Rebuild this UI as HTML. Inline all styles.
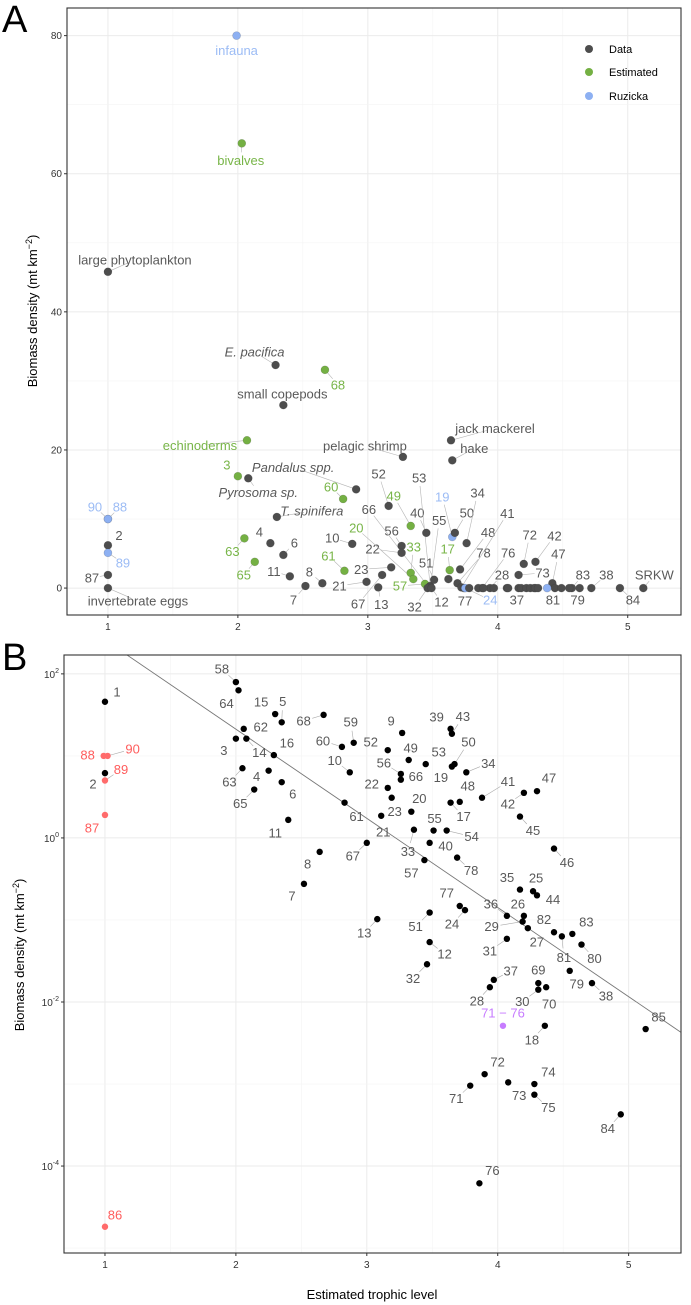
<!DOCTYPE html>
<html><head><meta charset="utf-8">
<style>
html,body{margin:0;padding:0;background:#fff;}
svg{display:block;font-family:"Liberation Sans",Arial,sans-serif;}
</style></head>
<body>
<svg id="fig" width="691" height="1305" viewBox="0 0 691 1305" xmlns="http://www.w3.org/2000/svg">
<text x="2" y="32" font-size="38" fill="#000">A</text>
<text x="2" y="670" font-size="38" fill="#000">B</text>
<g id="pa"></g>
<g id="pb"></g>
<text transform="translate(37,311) rotate(-90)" text-anchor="middle" font-size="13" fill="#000">Biomass density (mt  km<tspan dy="-5" font-size="9">−2</tspan><tspan dy="5">)</tspan></text>
<text transform="translate(24,955) rotate(-90)" text-anchor="middle" font-size="13" fill="#000">Biomass density (mt  km<tspan dy="-5" font-size="9">−2</tspan><tspan dy="5">)</tspan></text>
<text x="372" y="1299" text-anchor="middle" font-size="13" fill="#000">Estimated trophic level</text>
<g>
  <circle cx="589" cy="49" r="4" fill="#4d4d4d"/>
  <text x="609" y="53" font-size="11" fill="#000">Data</text>
  <circle cx="589" cy="72" r="4" fill="#74b043"/>
  <text x="609" y="76" font-size="11" fill="#000">Estimated</text>
  <circle cx="589" cy="96" r="4" fill="#8db0f2"/>
  <text x="609" y="100" font-size="11" fill="#000">Ruzicka</text>
</g>
</svg>
<script>
// ---------- Panel A data ----------
const aTrophic = [1.99,2.03,1.0,2.29,2.67,2.35,2.07,2.0,2.08,1.0,1.0,1.0,1.0,1.0,1.0,3.64,3.65,3.27,2.91,2.81,2.30,2.25,2.05,2.35,2.13,2.40,2.65,2.52,2.88,2.82,3.33,3.16,3.26,3.26,3.18,2.99,3.11,3.08,3.33,3.35,3.44,3.45,3.48,3.47,3.48,3.51,3.46,3.49,3.63,3.65,3.67,3.76,3.62,3.71,3.69,3.72,3.74,3.75,3.88,3.94,4.07,4.20,4.29,4.42,4.16,4.44,4.57,4.63,4.72,4.94,5.12,4.38,3.78,3.85,3.89,3.97,4.08,4.16,4.18,4.22,4.25,4.28,4.29,4.31,4.49,4.55];
const aBiomass = [80.0,64.4,45.8,32.3,31.6,26.5,21.4,16.2,15.9,10.0,10.0,6.2,5.1,1.9,0,21.4,18.5,19.0,14.3,12.9,10.3,6.5,7.2,4.8,3.8,1.7,0.7,0.3,6.4,2.5,9.0,11.9,6.1,5.1,3.0,0.9,1.9,0.1,2.2,1.3,0.6,8.0,0.3,0.1,0.1,1.2,0,0,2.6,7.4,8.0,6.5,1.3,2.7,0.7,0.1,0,0,0,0,0,3.5,3.8,0.7,1.9,0,0,0,0,0,0,0,0,0,0,0,0,0,0,0,0,0,0,0,0,0];
const aSource = ["R","E","D","D","E","D","E","E","D","R","R","D","R","D","D","D","D","D","D","E","D","D","E","D","E","D","D","D","D","E","E","D","D","D","D","D","D","D","E","E","E","D","D","D","D","D","D","D","E","R","D","D","D","D","D","D","D","R","D","D","D","D","D","D","D","D","D","D","D","D","D","R","D","D","D","D","D","D","D","D","D","D","D","D","D","D"];
const aLabels = ["infauna","bivalves","large phytoplankton","E. pacifica","68","small copepods","echinoderms","3","Pyrosoma sp.","90","88","2","89","87","invertebrate eggs","jack mackerel","hake","pelagic shrimp","Pandalus spp.","60","T. spinifera","4","63","6","65","11","8","7","10","61","49","52","56","22","23","21","67","13","33","20","57","40","53","66","55","51","32","12","17","19","50","34","","48","78","41","77","24","76","28","37","72","42","47","73","81","83","79","38","84","SRKW","","","","","","","","","","","","","","",""];
const aItalic = ["E. pacifica","Pyrosoma sp.","Pandalus spp.","T. spinifera"];
const aLabDx = [0,-1,27,-21,13,-1,-47,-11,10,-13,12,11,15,-16,30,44,22,-38,-63,-12,35,-11,-12,11,-11,-16,-13,-12,-20,-16,-17,-10,-10,-29,-30,-27,-24,3,3,-57,-25,-9,-11,-60,9,-8,-13,10,-2,-10,12,11,0,28,26,46,1,25,26,12,10,6,19,6,24,-2,11,-2,15,13,11,0,0,0,0,0,0,0,0,0,0,0,0,0,0,0];
const aLabDy = [15,17,-12,-13,15,-11,5,-11,14,-12,-12,-10,10,3,13,-12,-12,-11,-22,-12,-6,-11,13,-12,13,-5,-11,14,-6,-15,-30,-32,-15,-4,2,4,29,17,-26,-51,2,-20,-108,-78,-67,-17,19,14,-21,-40,-20,-50,0,-37,-30,-74,13,12,-35,-13,12,-29,-26,-29,-2,12,-13,12,-13,12,-13,0,0,0,0,0,0,0,0,0,0,0,0,0,0,0];
const aXTicks = [1,2,3,4,5];
const aYTicks = [0,20,40,60,80];

// ---------- Panel B data ----------
const bTrophic = [1.00,0.99,1.02,1.00,1.00,1.00,1.00,2.00,2.02,2.30,2.35,2.06,2.00,2.08,2.29,2.05,2.25,2.35,2.14,2.40,2.64,2.52,2.67,2.81,2.90,2.87,3.27,3.16,3.32,3.45,3.64,3.65,3.67,3.65,3.26,3.26,3.76,3.16,3.71,3.64,3.34,3.88,4.30,4.20,4.17,3.19,2.83,3.11,3.51,3.61,3.36,3.48,3.00,3.44,3.69,4.43,4.17,4.27,4.30,3.71,3.75,4.07,4.20,4.19,4.23,4.43,4.49,4.57,4.64,3.08,3.48,3.48,4.07,3.46,3.97,3.94,4.31,4.31,4.37,4.55,4.72,4.04,4.36,5.13,3.90,3.79,4.08,4.28,4.28,4.94,3.86];
const bLog10Biomass = [1.66,1.00,1.00,0.79,0.70,0.28,-4.74,1.90,1.80,1.51,1.41,1.33,1.21,1.21,1.01,0.85,0.82,0.68,0.59,0.22,-0.17,-0.56,1.50,1.11,1.16,0.80,1.28,1.07,0.95,0.90,1.33,1.27,0.90,0.87,0.78,0.71,0.80,0.61,0.44,0.43,0.32,0.49,0.57,0.55,0.26,0.49,0.43,0.27,0.09,0.09,0.10,-0.06,-0.06,-0.27,-0.24,-0.13,-0.63,-0.65,-0.70,-0.83,-0.88,-0.95,-0.95,-1.02,-1.10,-1.15,-1.20,-1.17,-1.30,-0.99,-0.91,-1.27,-1.23,-1.54,-1.73,-1.82,-1.77,-1.85,-1.82,-1.62,-1.77,-2.29,-2.29,-2.33,-2.88,-3.02,-2.98,-3.00,-3.13,-3.37,-4.21];
const bGroup = ["k","r","r","k","r","r","r","k","k","k","k","k","k","k","k","k","k","k","k","k","k","k","k","k","k","k","k","k","k","k","k","k","k","k","k","k","k","k","k","k","k","k","k","k","k","k","k","k","k","k","k","k","k","k","k","k","k","k","k","k","k","k","k","k","k","k","k","k","k","k","k","k","k","k","k","k","k","k","k","k","k","p","k","k","k","k","k","k","k","k","k"];
const bLabels = ["1","88","90","2","89","87","86","58","64","15","5","62","3","14","16","63","4","6","65","11","8","7","68","60","59","10","9","52","49","53","39","43","50","19","56","66","34","22","48","17","20","41","47","42","45","23","61","21","55","54","33","40","67","57","78","46","35","25","44","77","24","36","26","29","27","82","81","83","80","13","51","12","31","32","37","28","69","30","70","79","38","71 − 76","18","85","72","71","73","74","75","84","76"];
const bLabDx = [12,-16,25,-12,16,-13,10,-14,-12,-14,1,17,-12,13,13,-13,-12,11,-14,-13,-12,-12,-20,-19,-3,-15,-11,-17,2,13,-14,11,14,-11,-17,15,22,-16,8,13,8,26,12,-16,13,3,12,2,1,25,-6,16,-14,-13,14,13,-13,3,16,-13,-13,-16,-6,-31,9,-10,2,14,13,-13,-14,15,-17,-14,17,-13,0,-16,3,7,14,0,-13,13,13,-14,11,14,14,-13,13];
const bLabDy = [-10,-1,-7,11,-11,13,-12,-13,13,-12,-21,-2,12,14,-12,14,6,12,14,13,12,12,6,-6,-21,-12,-12,-8,-12,-12,-12,-17,-22,11,-11,-3,-9,-4,-16,14,-13,-16,-13,11,14,14,14,16,-12,6,22,3,13,13,13,14,-12,-13,4,-13,14,-12,-12,5,14,-13,21,-12,14,14,14,12,12,14,-9,14,-13,12,17,13,13,-13,14,-12,-12,13,13,-12,13,14,-13];
const bRegression = [3.50,-1.087]; // intercept, slope (log10 biomass vs trophic level)
const bXTicks = [1,2,3,4,5];
const bYTicks = [2,0,-2,-4];

// ---------- helpers ----------
const NS = "http://www.w3.org/2000/svg";
function mk(tag, attrs, parent){const e=document.createElementNS(NS,tag);for(const k in attrs)e.setAttribute(k,attrs[k]);parent.appendChild(e);return e;}

// ---------- Panel A ----------
const pa = document.getElementById('pa');
const A = {l:67,r:681,t:8,b:615,x0:0.685,x1:5.41,y0:-3.9,y1:84.0};
const ax = v => A.l + (v-A.x0)/(A.x1-A.x0)*(A.r-A.l);
const ay = v => A.b - (v-A.y0)/(A.y1-A.y0)*(A.b-A.t);
let bgA = mk('rect',{x:A.l,y:A.t,width:A.r-A.l,height:A.b-A.t,fill:'#fff'},pa);


for(let v=0.5; v<=5.5; v+=0.5){ if(ax(v)<A.l||ax(v)>A.r) continue;
  const g = mk('line',{x1:ax(v),x2:ax(v),y1:A.t,y2:A.b,stroke:(v%1===0)?'#ebebeb':'#f4f4f4','stroke-width':(v%1===0)?1:0.6},pa);
  
  
}
for(let v=0; v<=80; v+=10){
  const g = mk('line',{x1:A.l,x2:A.r,y1:ay(v),y2:ay(v),stroke:(v%20===0)?'#ebebeb':'#f4f4f4','stroke-width':(v%20===0)?1:0.6},pa);
  
  
}
aXTicks.forEach(t=>{
  const tk = mk('line',{x1:ax(t),x2:ax(t),y1:A.b,y2:A.b+3,stroke:'#333'},pa);
  
  
  const tl = mk('text',{x:ax(t),y:A.b+15,'text-anchor':'middle','font-size':10,fill:'#333'},pa);
  tl.textContent = t;
  
  
});
aYTicks.forEach(t=>{
  const tk = mk('line',{x1:A.l-3,x2:A.l,y1:ay(t),y2:ay(t),stroke:'#333'},pa);
  
  
  const tl = mk('text',{x:A.l-5,y:ay(t)+3.5,'text-anchor':'end','font-size':10,fill:'#333'},pa);
  tl.textContent = t;
  
  
});
const aFill = {D:'#4d4d4d',E:'#74b043',R:'#8db0f2'};
const aText = {D:'#595959',E:'#78b548',R:'#9cbcf5'};
aTrophic.forEach((t,i)=>{
  const px=ax(t), py=ay(aBiomass[i]);
  const lab=aLabels[i];
  if(lab){
    const lx=px+aLabDx[i], ly=py+aLabDy[i];
    const d=Math.hypot(aLabDx[i],aLabDy[i]);
    if(d>16){
      const f=(d-8)/d;
      const ld = mk('line',{x1:px,y1:py,x2:px+aLabDx[i]*f,y2:py+aLabDy[i]*f,stroke:'#b5b5b5','stroke-width':0.6},pa);
      
      
    }
    const tx = mk('text',{x:lx,y:ly+4.5,'text-anchor':'middle','font-size':13,fill:aText[aSource[i]]},pa);
    if(aItalic.includes(lab)) tx.setAttribute('font-style','italic');
    tx.textContent = lab;
    
    
  }
});
aTrophic.forEach((t,i)=>{
  const c = mk('circle',{cx:ax(t),cy:ay(aBiomass[i]),r:4,fill:aFill[aSource[i]],stroke:'#333','stroke-opacity':0.25,'stroke-width':0.6},pa);
  
  
});
const frA = mk('rect',{x:A.l,y:A.t,width:A.r-A.l,height:A.b-A.t,fill:'none',stroke:'#333','stroke-width':1.1},pa);



// ---------- Panel B ----------
const pb = document.getElementById('pb');
const B = {l:64,r:681,t:655,b:1253,x0:0.687,x1:5.40,y0:-5.06,y1:2.23};
const bx = v => B.l + (v-B.x0)/(B.x1-B.x0)*(B.r-B.l);
const by = v => B.b - (v-B.y0)/(B.y1-B.y0)*(B.b-B.t);
for(let v=0.5; v<=5.5; v+=0.5){ if(bx(v)<B.l||bx(v)>B.r) continue;
  const g = mk('line',{x1:bx(v),x2:bx(v),y1:B.t,y2:B.b,stroke:(v%1===0)?'#ebebeb':'#f4f4f4','stroke-width':(v%1===0)?1:0.6},pb);
  
  
}
for(let v=-5; v<=2; v+=1){
  const g = mk('line',{x1:B.l,x2:B.r,y1:by(v),y2:by(v),stroke:(v%2===0)?'#ebebeb':'#f4f4f4','stroke-width':(v%2===0)?1:0.6},pb);
  
  
}
bXTicks.forEach(t=>{
  const tk = mk('line',{x1:bx(t),x2:bx(t),y1:B.b,y2:B.b+3,stroke:'#333'},pb);
  
  
  const tl = mk('text',{x:bx(t),y:B.b+15,'text-anchor':'middle','font-size':10,fill:'#333'},pb);
  tl.textContent = t;
  
  
});
bYTicks.forEach(t=>{
  const tk = mk('line',{x1:B.l-3,x2:B.l,y1:by(t),y2:by(t),stroke:'#333'},pb);
  
  
  const tl = mk('text',{x:B.l-5,y:by(t)+4,'text-anchor':'end','font-size':10,fill:'#333'},pb);
  tl.innerHTML = '10<tspan dy="-5" font-size="7">'+(t<0?'-':'')+Math.abs(t)+'</tspan>';
  
  
});
// regression line clipped to panel
(function(){
  const f = t => bRegression[0] + bRegression[1]*t;
  let t1 = (B.y1 - bRegression[0])/bRegression[1];
  let t2 = B.x1;
  if(t1 < B.x0) t1 = B.x0;
  const rl = mk('line',{x1:bx(t1),y1:by(f(t1)),x2:bx(t2),y2:by(f(t2)),stroke:'#777','stroke-width':0.9},pb);
  
  
})();
const bFill = {k:'#000',r:'#ff6b6b',p:'#c77cff'};
const bText = {k:'#595959',r:'#ff5c5c',p:'#c77cff'};
bTrophic.forEach((t,i)=>{
  const px=bx(t), py=by(bLog10Biomass[i]);
  const d=Math.hypot(bLabDx[i],bLabDy[i]);
  if(d>19){
    const f=(d-9)/d;
    const ld = mk('line',{x1:px,y1:py,x2:px+bLabDx[i]*f,y2:py+bLabDy[i]*f,stroke:'#aaa','stroke-width':0.6},pb);
    
    
  }
  const tx = mk('text',{x:px+bLabDx[i],y:py+bLabDy[i]+4.5,'text-anchor':'middle','font-size':13,fill:bText[bGroup[i]]},pb);
  tx.textContent = bLabels[i];
  
  
});
bTrophic.forEach((t,i)=>{
  const c = mk('circle',{cx:bx(t),cy:by(bLog10Biomass[i]),r:3.2,fill:bFill[bGroup[i]]},pb);
  
  
});
const frB = mk('rect',{x:B.l,y:B.t,width:B.r-B.l,height:B.b-B.t,fill:'none',stroke:'#333','stroke-width':1.1},pb);


</script>
</body></html>
